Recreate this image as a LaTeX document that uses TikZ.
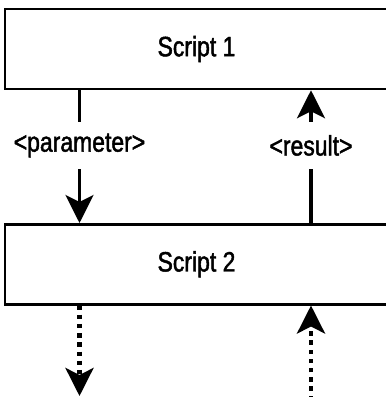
\documentclass[tikz,border=0pt]{standalone}
\usepackage{fontspec}
\setmainfont[FakeStretch=0.82,FakeBold=1.6]{Liberation Sans}
\usetikzlibrary{arrows.meta}
\begin{document}
\begin{tikzpicture}[x=1pt,y=-1pt,
  box/.style={draw, line width=2.5pt, minimum width=383pt, minimum height=80pt, inner sep=0pt, font=\fontsize{28}{31}\selectfont},
  lbl/.style={inner sep=0pt, minimum height=47pt, font=\fontsize{28}{31}\selectfont},
  flow/.style={line width=3.3pt},
  tip/.style={-{Stealth[length=28pt,width=28pt,inset=7pt]}},
  dots/.style={line width=4.3pt, dash pattern=on 4.5pt off 4.7pt}]
\useasboundingbox (0,0) rectangle (386,397);
\clip (0,0) rectangle (386,397);
\node[box] (s1) at (196.5,49) {Script 1};
\node[box] (s2) at (196.5,264.25) {Script 2};
\node[lbl] (par) at (79.5,145.5) {<parameter>};
\node[lbl] (res) at (311,145.5) {<result>};
\coordinate (end1) at (79.5,396);
\coordinate (start2) at (311,400);
\draw[flow] (s1.south -| par) -- (par.north);
\draw[flow,tip] (par.south) -- (s2.north -| par);
\draw[flow] (s2.north -| res) -- (res.south);
\draw[flow,tip] (res.north) -- (s1.south -| res);
\draw[dots,tip] (s2.south -| end1) -- (end1);
\draw[dots,tip] (start2) -- (s2.south -| start2);
\end{tikzpicture}
\end{document}
